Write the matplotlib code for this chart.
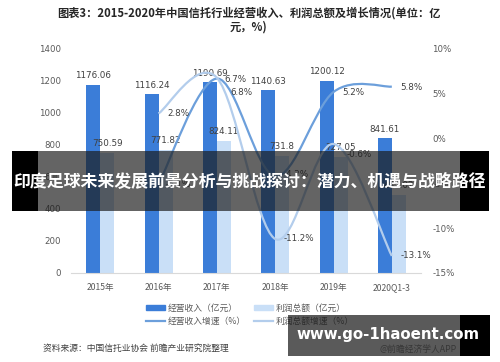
import matplotlib
matplotlib.use("Agg")
import matplotlib.pyplot as plt
import numpy as np
from matplotlib.path import Path
from matplotlib.patches import PathPatch, Rectangle
from matplotlib.lines import Line2D
from matplotlib.patches import Patch

plt.rcParams['font.family'] = ['Noto Sans CJK SC', 'DejaVu Sans']

categories = ["2015年", "2016年", "2017年", "2018年", "2019年", "2020Q1-3"]
revenue = [1176.06, 1116.24, 1190.69, 1140.63, 1200.12, 841.61]
profit = [750.59, 771.82, 824.11, 731.8, 727.05, 487.02]
rev_growth = [None, -5.1, 6.7, -4.2, 5.2, 5.8]
profit_growth = [None, 2.8, 6.8, -11.2, -0.6, -13.1]
left_ticks = [0, 200, 400, 600, 800, 1000, 1200, 1400]
right_ticks = [-15, -10, -5, 0, 5, 10]

title = "图表3：2015-2020年中国信托行业经营收入、利润总额及增长情况(单位：亿\n元，%)"
source = "资料来源：中国信托业协会 前瞻产业研究院整理"
brand = "@前瞻经济学人APP"
banner = "印度足球未来发展前景分析与挑战探讨：潜力、机遇与战略路径"
url = "www.go-1haoent.com"

C_REV = "#3B7DD8"
C_PRO = "#C9DFF7"
C_REVG = "#6C9FDB"
C_PROG = "#B3CDEC"
TXT = "#595959"

W, H = 500, 362
fig = plt.figure(figsize=(5, 3.62), dpi=100)
ax = fig.add_axes([71/W, 1-273/H, 350/W, 224/H])
ax2 = ax.twinx()

x = np.arange(len(categories))
bw = 0.24
ax.bar(x - bw/2, revenue, bw, color=C_REV, zorder=2)
ax.bar(x + bw/2, profit, bw, color=C_PRO, zorder=2)
for xi, v in zip(x, revenue):
    ax.text(xi - bw/2, v + 30, f"{v:.2f}", ha='center', va='bottom',
            fontsize=6.3, color="#404040", family='DejaVu Sans')
for xi, v in zip(x, profit):
    ax.text(xi + bw/2, v + 30, f"{v:g}", ha='center', va='bottom',
            fontsize=6.3, color="#404040", family='DejaVu Sans')

ax.set_xlim(-0.5, len(categories) - 0.5)
ax.set_ylim(0, 1400)
ax.set_yticks(left_ticks)
ax.set_xticks(x)
ax.set_xticklabels(categories)
ax.tick_params(length=0, labelsize=6.2, colors=TXT, pad=7)
ax2.set_ylim(-15, 10)
ax2.set_yticks(right_ticks)
ax2.set_yticklabels([f"{t}%" for t in right_ticks])
ax2.tick_params(length=0, labelsize=6.2, colors=TXT, pad=8)
for a in (ax, ax2):
    for s in a.spines.values():
        s.set_visible(False)
ax.spines['bottom'].set_visible(True)
ax.spines['bottom'].set_color("#D9D9D9")
for lab in ax.get_yticklabels() + ax2.get_yticklabels():
    lab.set_family('DejaVu Sans')


def smooth_path(xs, ys):
    pts = np.array(list(zip(xs, ys)), dtype=float)
    n = len(pts)
    verts = [pts[0]]
    codes = [Path.MOVETO]
    for i in range(n - 1):
        p0 = pts[i - 1] if i > 0 else pts[i]
        p1 = pts[i]
        p2 = pts[i + 1]
        p3 = pts[i + 2] if i + 2 < n else pts[i + 1]
        c1 = p1 + (p2 - p0) / 6
        c2 = p2 - (p3 - p1) / 6
        verts += [c1, c2, p2]
        codes += [Path.CURVE4] * 3
    return Path(verts, codes)


def draw_growth(vals, color, offsets):
    xs = [xi for xi, v in zip(x, vals) if v is not None]
    ys = [v for v in vals if v is not None]
    ax2.add_patch(PathPatch(smooth_path(xs, ys), fill=False, edgecolor=color, lw=1.6, zorder=3))
    for xi, yi, off in zip(xs, ys, offsets):
        ax2.annotate(f"{yi:g}%", (xi, yi), xytext=off, textcoords='offset pixels',
                     ha='left', va='center', fontsize=6.3, color="#404040",
                     family='DejaVu Sans', zorder=4)

draw_growth(rev_growth, C_REVG, [(7, 0), (8, -1), (8, 2), (9, 0), (8, -1)])
draw_growth(profit_growth, C_PROG, [(9, 0), (14, -15), (8, 0), (13, -11), (9, 0)])

# legend
handles = [Patch(color=C_REV), Line2D([], [], color=C_REVG, lw=1.6),
           Patch(color=C_PRO), Line2D([], [], color=C_PROG, lw=1.6)]
labels = ["经营收入（亿元）", "经营收入增速（%）", "利润总额（亿元）", "利润总额增速（%）"]
fig.legend(handles, labels, ncol=2, loc='upper left', bbox_to_anchor=(138/W, 1-296/H),
           frameon=False, fontsize=6.3, handlelength=2.2, handleheight=0.45,
           handletextpad=0.3, columnspacing=0.9, labelspacing=0.45, labelcolor=TXT)

fig.text(249/W, 1-7/H, title, ha='center', va='top', fontsize=8.1, fontweight='bold',
         color="#262626", linespacing=1.05)
fig.text(43/W, 1-348/H, source, ha='left', va='center', fontsize=6.3, color="#404040")
fig.text(380/W, 1-349/H, brand, ha='left', va='center', fontsize=6.3, color="#808080")

# overlay banner
fig.patches.append(Rectangle((12/W, 1-211/H), 477/W, 60/H, transform=fig.transFigure,
                             facecolor="#1a1a1a", alpha=0.68, zorder=10))
fig.patches.append(Rectangle((12/W, 1-211/H), 26/W, 60/H, transform=fig.transFigure,
                             facecolor="black", zorder=10))
fig.patches.append(Rectangle((460/W, 1-211/H), 29/W, 60/H, transform=fig.transFigure,
                             facecolor="black", zorder=10))
fig.text(250/W, 1-182/H, banner, ha='center', va='center', fontsize=12.2, fontweight='bold',
         color='white', zorder=11)

# url box
fig.patches.append(Rectangle((288/W, 1-356/H), 202/W, 41/H, transform=fig.transFigure,
                             facecolor="#1a1a1a", alpha=0.72, zorder=10))
fig.patches.append(Rectangle((460/W, 1-356/H), 30/W, 41/H, transform=fig.transFigure,
                             facecolor="black", zorder=10))
fig.text(388/W, 1-335/H, url, ha='center', va='center', fontsize=10.8, fontweight='bold',
         color='white', family='DejaVu Sans', zorder=11)

fig.savefig("out.png", dpi=100)
